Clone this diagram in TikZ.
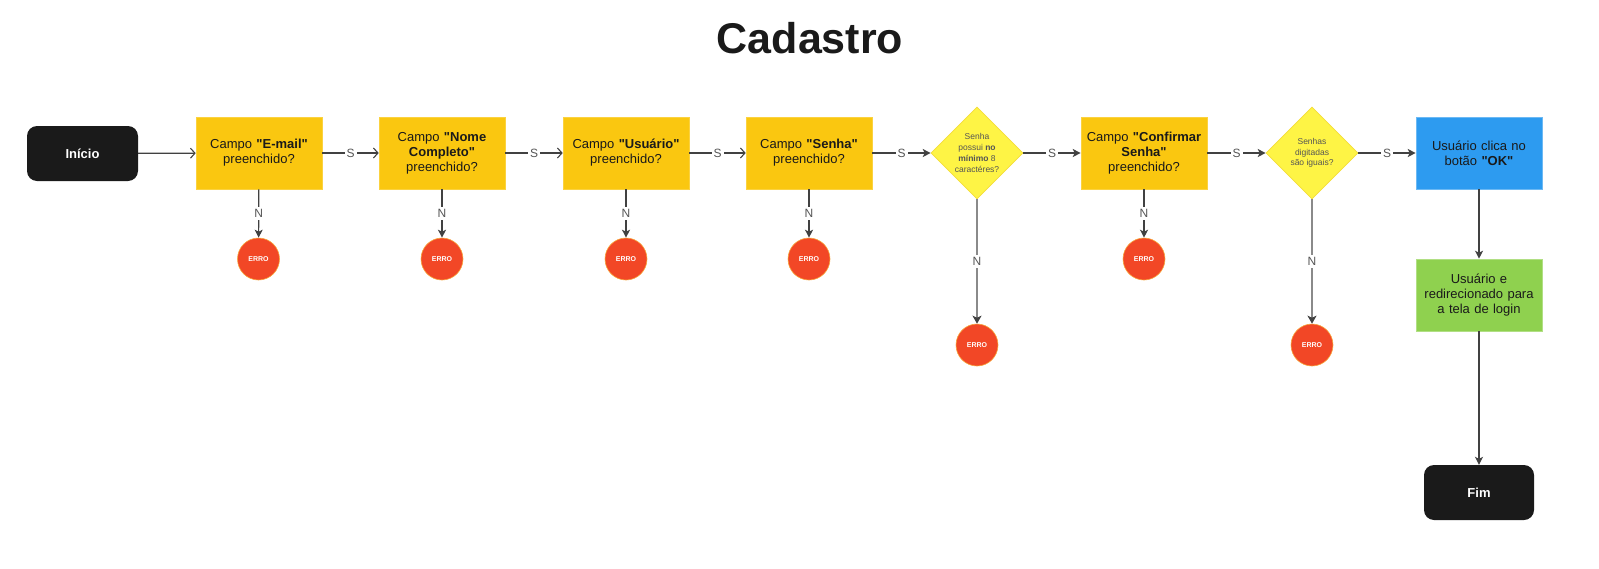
\documentclass[tikz,border=0pt]{standalone}
\usepackage{fontspec}
\setmainfont{Liberation Sans}[Ligatures=TeXOff]
\usetikzlibrary{shapes.geometric,arrows.meta}
\definecolor{boxyel}{HTML}{FAC710}
\definecolor{diayel}{HTML}{FEF445}
\definecolor{diabd}{HTML}{F3DC3A}
\definecolor{errred}{HTML}{F24726}
\definecolor{errbd}{HTML}{F7A53A}
\definecolor{okblue}{HTML}{2D9BF0}
\definecolor{okgreen}{HTML}{8FD14F}
\definecolor{darkbg}{HTML}{1A1A1A}
\definecolor{linec}{HTML}{414141}
\definecolor{lightline}{HTML}{8A8A8A}
\definecolor{lblc}{HTML}{555555}
\tikzset{
  x=1pt,y=-1pt,
  terminal/.style={draw=none,fill=darkbg,rounded corners=10pt,minimum width=111pt,minimum height=55pt,
    text=white,font=\fontsize{13}{15}\selectfont\bfseries,inner sep=0pt},
  fieldbox/.style={draw=boxyel!80!white,line width=0.6pt,fill=boxyel,minimum width=126pt,minimum height=72pt,
    text width=116pt,align=center,inner sep=0pt,font=\fontsize{13}{15}\selectfont,text=darkbg},
  decide/.style={diamond,draw=diabd,line width=0.6pt,fill=diayel,minimum width=92pt,minimum height=92pt,
    inner sep=0pt,align=center,font=\fontsize{8.5}{10.7}\selectfont,text=lblc,aspect=1},
  errnode/.style={circle,draw=errbd,line width=0.6pt,fill=errred,minimum size=42pt,inner sep=0pt,
    text=white,font=\fontsize{7}{8}\selectfont\bfseries},
  conn/.style={draw=linec,line width=1.2pt},
  openarrow/.style={conn,-{Straight Barb[length=4.5pt,width=10pt,line width=1.1pt]}},
  fillarrow/.style={conn,-{Stealth[length=8pt,width=8pt,inset=2pt]}},
  greyarrow/.style={draw=lightline,line width=1.8pt,-{Stealth[length=8pt,width=9pt,inset=2pt,color=linec]}},
  lbl/.style={fill=white,text=lblc,font=\fontsize{12}{14}\selectfont,inner sep=2pt},
}
\begin{document}
\begin{tikzpicture}
\useasboundingbox (0,0) rectangle (1599,568);
\node[font=\fontsize{43}{50}\selectfont\bfseries,text=darkbg] (title) at (810,38) {Cadastro};

\node[terminal] (inicio) at (82.5,153.5) {Início};
\node[fieldbox] (email) at (259,153) {Campo \textbf{"E-mail"}\\preenchido?};
\node[fieldbox] (nome) at (442,153) {Campo \textbf{"Nome Completo"}\\preenchido?};
\node[fieldbox] (usuario) at (626,153) {Campo \textbf{"Usuário"}\\preenchido?};
\node[fieldbox] (senha) at (809,153) {Campo \textbf{"Senha"}\\preenchido?};
\node[decide] (d1) at (977,153) {Senha\\possui \textbf{no}\\\textbf{mínimo} 8\\caractéres?};
\node[fieldbox] (confirma) at (1144,153) {Campo \textbf{"Confirmar}\\\textbf{Senha"}\\preenchido?};
\node[decide] (d2) at (1312,153) {Senhas\\digitadas\\são iguais?};
\node[fieldbox,fill=okblue,draw=okblue!70!white] (ok) at (1479,153) {Usuário clica no\\botão \textbf{"OK"}};
\node[fieldbox,fill=okgreen,draw=okgreen!70!white] (redir) at (1479,295) {Usuário e\\redirecionado para\\a tela de login};
\node[terminal,minimum width=110pt] (fim) at (1479,492.5) {Fim};

\node[errnode] (e1) at (258.5,259) {ERRO};
\node[errnode] (e2) at (442,259) {ERRO};
\node[errnode] (e3) at (626,259) {ERRO};
\node[errnode] (e4) at (809,259) {ERRO};
\node[errnode] (e5) at (977,345) {ERRO};
\node[errnode] (e6) at (1144,259) {ERRO};
\node[errnode] (e7) at (1312,345) {ERRO};

\draw[openarrow] (inicio) -- (email);
\draw[openarrow] (email) -- node[lbl]{S} (nome);
\draw[openarrow] (nome) -- node[lbl]{S} (usuario);
\draw[openarrow] (usuario) -- node[lbl]{S} (senha);
\draw[fillarrow] (senha) -- node[lbl]{S} (d1);
\draw[fillarrow] (d1) -- node[lbl]{S} (confirma);
\draw[fillarrow] (confirma) -- node[lbl]{S} (d2);
\draw[fillarrow] (d2) -- node[lbl]{S} (ok);
\draw[fillarrow] (ok) -- (redir);
\draw[fillarrow] (redir) -- (fim);

\draw[fillarrow] (email) -- node[lbl]{N} (e1);
\draw[fillarrow] (nome) -- node[lbl]{N} (e2);
\draw[fillarrow] (usuario) -- node[lbl]{N} (e3);
\draw[fillarrow] (senha) -- node[lbl]{N} (e4);
\draw[fillarrow] (confirma) -- node[lbl]{N} (e6);
\draw[greyarrow] (d1) -- node[lbl]{N} (e5);
\draw[greyarrow] (d2) -- node[lbl]{N} (e7);
\end{tikzpicture}
\end{document}
